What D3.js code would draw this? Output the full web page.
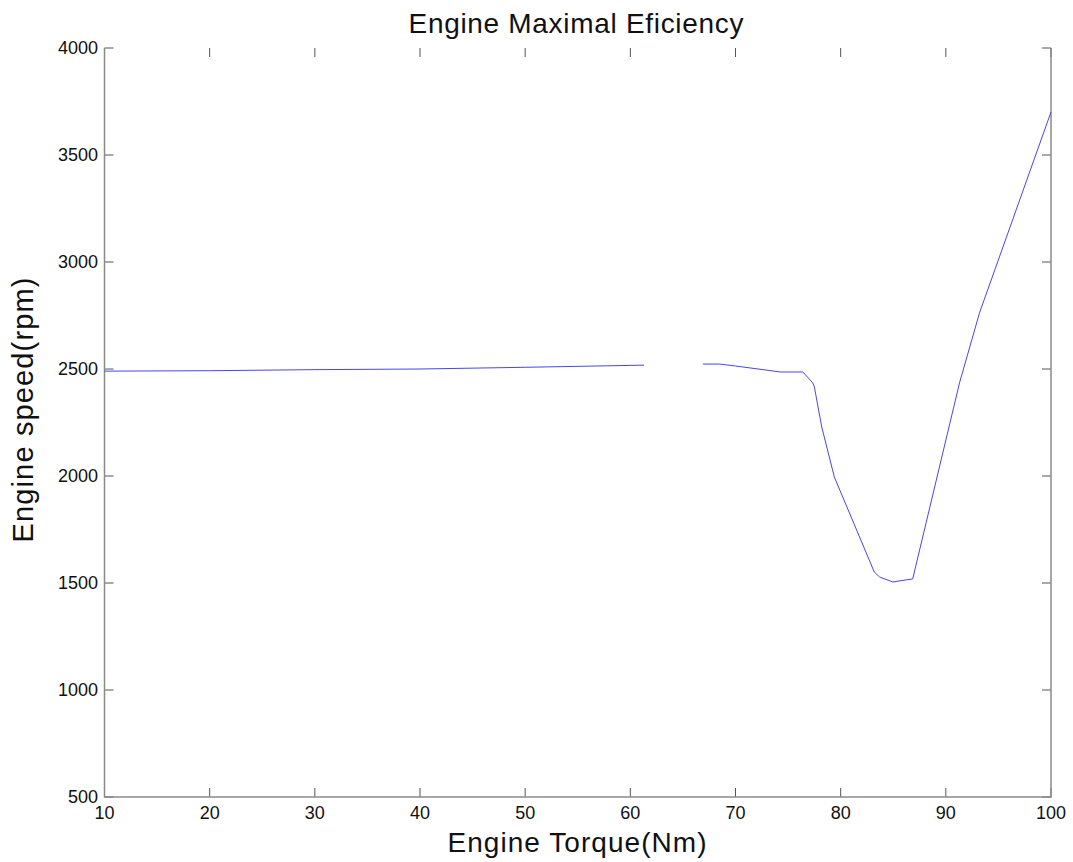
<!DOCTYPE html>
<html><head><meta charset="utf-8">
<script src="https://cdn.jsdelivr.net/npm/d3@7"></script>
<style>body{margin:0;background:#fff}svg{display:block}text{font-family:"Liberation Sans",Arial,sans-serif;fill:#111}</style>
</head><body>
<script>
const torque = [10, 20, 30, 40, 50, 61.3, null, 66.9, 68.5, 70, 74.3, 76.4, 77.35, 77.5, 78.2, 79.4, 83.2, 83.7, 84.95, 86.85, 91.3, 93.2, 100];
const speed  = [2490, 2492, 2497, 2500, 2508, 2518, null, 2523, 2523, 2514, 2486, 2486, 2435, 2416, 2229, 1995, 1551, 1528, 1505, 1519, 2435, 2762, 3701];
const xTicks = [10, 20, 30, 40, 50, 60, 70, 80, 90, 100];
const yTicks = [500, 1000, 1500, 2000, 2500, 3000, 3500, 4000];
const titleText = "Engine Maximal Eficiency";
const xLabel = "Engine Torque(Nm)";
const yLabel = "Engine speed(rpm)";

const W = 1073, H = 862;
const L = 104.5, R = 1051, T = 48, B = 797;
const svg = d3.select("body").append("svg").attr("width", W).attr("height", H);
const x = d3.scaleLinear().domain([10, 100]).range([L, R]);
const y = d3.scaleLinear().domain([500, 4000]).range([B, T]);

const axisCol = "#8a8a8a";
const tickLen = 9;
const g = svg.append("g");
xTicks.forEach(v => {
  g.append("line").attr("x1", x(v)).attr("x2", x(v)).attr("y1", B).attr("y2", B - tickLen).attr("stroke", "#555");
  g.append("line").attr("x1", x(v)).attr("x2", x(v)).attr("y1", T).attr("y2", T + tickLen).attr("stroke", "#555");
  g.append("text").attr("x", x(v)).attr("y", 819).attr("text-anchor", "middle").attr("font-size", 18).text(v);
});
yTicks.forEach(v => {
  g.append("line").attr("x1", L).attr("x2", L + tickLen).attr("y1", y(v)).attr("y2", y(v)).attr("stroke", "#555");
  g.append("line").attr("x1", R).attr("x2", R - tickLen).attr("y1", y(v)).attr("y2", y(v)).attr("stroke", "#555");
  g.append("text").attr("x", 98).attr("y", y(v) + 6).attr("text-anchor", "end").attr("font-size", 18).text(v);
});
g.append("path").attr("d", `M${L},${T}V${B}H${R}V${T}`).attr("fill", "none").attr("stroke", axisCol).attr("stroke-width", 1.5);

const pts = torque.map((t, i) => ({t, s: speed[i]}));
const line = d3.line().defined(d => d.t !== null && d.s !== null).x(d => x(d.t)).y(d => y(d.s));
svg.append("path").datum(pts).attr("d", line).attr("fill", "none").attr("stroke", "#4646ee").attr("stroke-width", 1);

svg.append("text").attr("x", 576).attr("y", 33).attr("text-anchor", "middle").attr("font-size", 28)
  .attr("textLength", 335).attr("lengthAdjust", "spacing").text(titleText);
svg.append("text").attr("x", 577).attr("y", 852).attr("text-anchor", "middle").attr("font-size", 28)
  .attr("textLength", 259).attr("lengthAdjust", "spacing").text(xLabel);
svg.append("text").attr("transform", "translate(33,410) rotate(-90)").attr("text-anchor", "middle").attr("font-size", 29)
  .attr("textLength", 265).attr("lengthAdjust", "spacing").text(yLabel);
</script>
</body></html>
